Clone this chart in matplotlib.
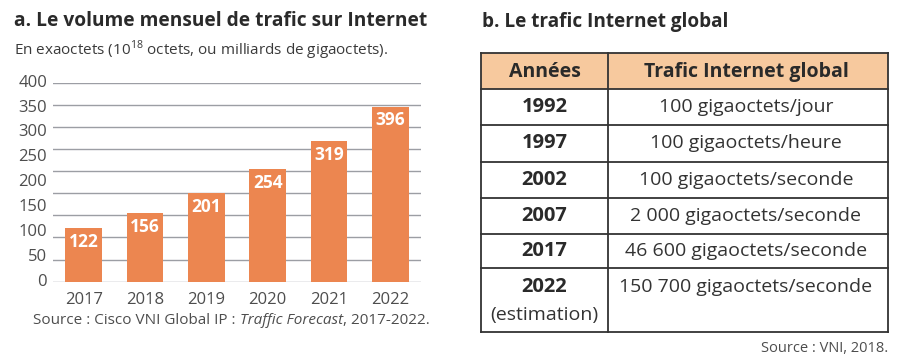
import numpy as np
import matplotlib
matplotlib.use("Agg")
import matplotlib.pyplot as plt
from matplotlib.patches import Rectangle

plt.rcParams['font.family'] = ['Open Sans', 'DejaVu Sans']
plt.rcParams['mathtext.fontset'] = 'custom'
plt.rcParams['mathtext.rm'] = 'Open Sans'

# data, panel a
years = ['2017', '2018', '2019', '2020', '2021', '2022']
volumes = [122, 156, 201, 254, 319, 396]
ytick_labels = ['0', '50', '100', '150', '200', '250', '300', '350', '400']

# data, panel b
table_years = ['1992', '1997', '2002', '2007', '2017', '2022']
table_traffic = ['100 gigaoctets/jour', '100 gigaoctets/heure', '100 gigaoctets/seconde',
                 '2 000 gigaoctets/seconde', '46 600 gigaoctets/seconde',
                 '150 700 gigaoctets/seconde']
table_header = ['Années', 'Trafic Internet global']

W, H = 919, 363
BAR = '#EC8650'
DARK = '#2a2a2a'
GREY = '#4d4d4d'


def px(x0, y0, x1, y1):
    return [x0 / W, 1 - y1 / H, (x1 - x0) / W, (y1 - y0) / H]


fig = plt.figure(figsize=(W / 100, H / 100), dpi=100)
fig.patch.set_facecolor('white')

# ---- panel a : bar chart
ax = fig.add_axes(px(53, 82.7, 421, 281.7))
x = np.arange(len(years))
ax.bar(x, volumes, width=0.6, color=BAR, zorder=3)
ax.set_xlim(-0.5, 5.5)
ax.set_ylim(0, 450)
ax.set_yticks(np.arange(0, 451, 50))
ax.yaxis.grid(True, color='#9c9ea4', lw=1.0, zorder=0)
ax.tick_params(left=False, labelleft=False, bottom=False)
for s in ax.spines.values():
    s.set_visible(False)
ax.set_xticks(x, years, fontsize=12, color=GREY)
ax.tick_params(axis='x', pad=4)
for i, lab in enumerate(ytick_labels):
    ax.text(-0.016, i / (len(ytick_labels) - 1), lab, transform=ax.transAxes,
            ha='right', va='center', fontsize=12, color=GREY)
for i, v in enumerate(volumes):
    ax.annotate(str(v), (i, v), xytext=(0, -10), textcoords='offset points',
                ha='center', va='center', color='white', fontsize=12.5,
                fontweight='bold', zorder=4)

fig.text(14 / W, 1 - 21 / H, 'a. Le volume mensuel de trafic sur Internet',
         fontsize=13.75, fontweight='bold', color=DARK, va='center', ha='left')
fig.text(14 / W, 1 - 50 / H,
         'En exaoctets (10$^{18}$ octets, ou milliards de gigaoctets).',
         fontsize=11, color='#3a3a3a', va='center', ha='left')

t1 = fig.text(33 / W, 1 - 320 / H, 'Source : Cisco VNI Global IP : ',
              fontsize=11, color=GREY, va='center', ha='left')
t2 = ax.annotate('Traffic Forecast', xy=(1, 0), xycoords=t1, va='bottom',
                 ha='left', fontsize=11, color=GREY, style='italic',
                 annotation_clip=False)
ax.annotate(', 2017-2022.', xy=(1, 0), xycoords=t2, va='bottom', ha='left',
            fontsize=11, color=GREY, annotation_clip=False)

# ---- panel b : table
tax = fig.add_axes([0, 0, 1, 1])
tax.set_xlim(0, W)
tax.set_ylim(H, 0)
tax.axis('off')

fig.text(482 / W, 1 - 22 / H, 'b. Le trafic Internet global',
         fontsize=13.7, fontweight='bold', color=DARK, va='center', ha='left')

col_x = [481, 608, 888]
row_y = [53, 89, 125, 162, 198, 234, 268, 332]
tax.add_patch(Rectangle((col_x[0], row_y[0]), col_x[2] - col_x[0],
                        row_y[1] - row_y[0], facecolor='#F7C99E', edgecolor='none'))
for yy in row_y:
    tax.plot([col_x[0], col_x[2]], [yy, yy], color='#333333', lw=1.3)
for xx in col_x:
    tax.plot([xx, xx], [row_y[0], row_y[-1]], color='#333333', lw=1.3)

c1 = (col_x[0] + col_x[1]) / 2
c2 = (col_x[1] + col_x[2]) / 2 - 2
yh = (row_y[0] + row_y[1]) / 2 + 1
tax.text(c1, yh, table_header[0], ha='center', va='center', fontsize=14,
         fontweight='bold', color=DARK)
tax.text(c2, yh, table_header[1], ha='center', va='center', fontsize=14,
         fontweight='bold', color=DARK)
for i, (yr, tr) in enumerate(zip(table_years, table_traffic)):
    top, bot = row_y[i + 1], row_y[i + 2]
    yc = (top + bot) / 2 if i < len(table_years) - 1 else top + 19
    tax.text(c1, yc, yr, ha='center', va='center', fontsize=14.5,
             fontweight='bold', color=DARK)
    tax.text(c2, yc, tr, ha='center', va='center', fontsize=14, color='#333333')
tax.text(c1, row_y[-2] + 47, '(estimation)', ha='center', va='center',
         fontsize=14, color='#333333')

fig.text(888 / W, 1 - 348 / H, 'Source : VNI, 2018.', fontsize=10.5,
         color=GREY, ha='right', va='center')

fig.savefig('out.png', dpi=100)
